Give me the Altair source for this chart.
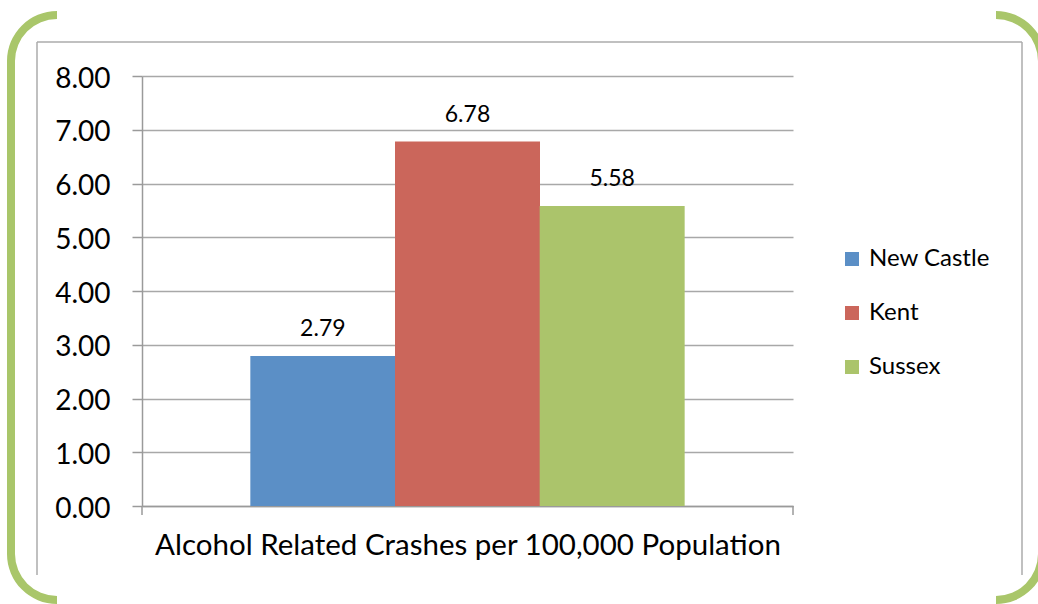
import altair as alt
import pandas as pd

# Chart values
counties = ["New Castle", "Kent", "Sussex"]
crash_rates = [2.79, 6.78, 5.58]
bar_colors = ["#5b8fc6", "#cb665b", "#abc46b"]
y_ticks = [0, 1, 2, 3, 4, 5, 6, 7, 8]
x_title = "Alcohol Related Crashes per 100,000 Population"

FONT = "Lato"
W, H = 651, 430
AXIS_GREY = "#9a9a9a"
FRAME_GREY = "#ababab"
BRACKET_GREEN = "#a9c66a"

df = pd.DataFrame({"county": counties, "rate": crash_rates})
one = pd.DataFrame({"k": [0]})

x_enc = alt.X(
    "county:N",
    sort=counties,
    scale=alt.Scale(domain=counties, paddingInner=0, paddingOuter=0.75),
    axis=alt.Axis(
        title=x_title, labels=False, ticks=False,
        domainColor=AXIS_GREY, domainWidth=1.5,
        titleFont=FONT, titleFontSize=29.5, titleFontWeight="normal",
        titleColor="#000000", titlePadding=25,
    ),
)
y_enc = alt.Y(
    "rate:Q",
    scale=alt.Scale(domain=[0, 8], nice=False, zero=True),
    axis=alt.Axis(
        values=y_ticks, format=".2f", title=None,
        tickSize=10, tickColor=AXIS_GREY, tickWidth=1.5,
        domainColor=AXIS_GREY, domainWidth=1.5,
        gridColor="#a8a8a8", gridWidth=1.5,
        labelFont=FONT, labelFontSize=28, labelColor="#000000",
        labelPadding=22, labelOffset=3,
    ),
)

bars = alt.Chart(df).mark_bar(size=145).encode(
    x=x_enc,
    y=y_enc,
    color=alt.Color(
        "county:N",
        sort=counties,
        scale=alt.Scale(domain=counties, range=bar_colors),
        legend=alt.Legend(
            title=None, orient="none", legendX=698, legendY=171,
            symbolType="square", symbolSize=196, symbolStrokeWidth=0,
            labelFont=FONT, labelFontSize=24, labelColor="#000000",
            labelOffset=5, rowPadding=30,
        ),
    ),
)

labels = alt.Chart(df).mark_text(
    font=FONT, fontSize=23, baseline="alphabetic", dy=-20, color="#000000"
).encode(
    x=alt.X("county:N", sort=counties),
    y="rate:Q",
    text=alt.Text("rate:Q", format=".2f"),
)

# End ticks on the category axis
def tick(xpos):
    return alt.Chart(one).mark_rule(color=AXIS_GREY, strokeWidth=1.5).encode(
        x=alt.value(xpos), y=alt.value(H), y2=alt.value(H + 9)
    )

# Thin frame around the chart (top, left, right)
def frame_v(xpos):
    return alt.Chart(one).mark_rule(color=FRAME_GREY, strokeWidth=1.5).encode(
        x=alt.value(xpos), y=alt.value(-34), y2=alt.value(499)
    )

frame_top = alt.Chart(one).mark_rule(color=FRAME_GREY, strokeWidth=1.5).encode(
    x=alt.value(-105), x2=alt.value(880), y=alt.value(-34)
)

# Green bracket decorations
def corner(cx, cy, t0, t1):
    return alt.Chart(one).mark_arc(color=BRACKET_GREEN).encode(
        x=alt.value(cx), y=alt.value(cy),
        theta=alt.value(t0), theta2=alt.value(t1),
        radius=alt.value(50), radius2=alt.value(42),
    )

PI = 3.141592653589793
left_bar = alt.Chart(one).mark_rule(color=BRACKET_GREEN, strokeWidth=8).encode(
    x=alt.value(-131), y=alt.value(-15), y2=alt.value(478)
)

chart = alt.layer(
    frame_top, frame_v(-105), frame_v(880),
    left_bar,
    corner(-85, -15, 1.5 * PI, 2 * PI),
    corner(854, -15, 0, 0.5 * PI),
    corner(854, 478, 0.5 * PI, PI),
    corner(-85, 478, PI, 1.5 * PI),
    bars, labels, tick(0), tick(W),
).properties(
    width=W, height=H,
    autosize=alt.AutoSizeParams(type="none"),
    padding={"left": 142, "top": 76, "right": 245, "bottom": 98},
    background="#ffffff",
).configure_view(stroke=None)

chart.save("out.html", embed_options={"renderer": "svg", "actions": False})
